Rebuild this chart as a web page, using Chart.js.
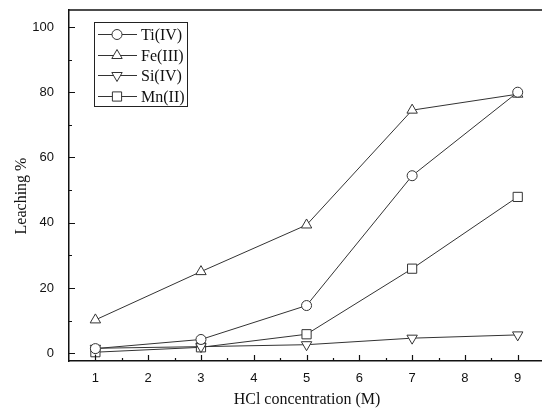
<!DOCTYPE html>
<html>
<head>
<meta charset="utf-8">
<script src="https://cdn.jsdelivr.net/npm/chart.js@4.4.1/dist/chart.umd.min.js"></script>
<style>
	body { margin: 0; background: #fff; }
	canvas { display: block; }
</style>
</head>
<body>
<canvas id="leachChart" width="542" height="410"></canvas>
<script>
let concentrations = [1, 3, 5, 7, 9];
let tiValues = [1.4, 4.2, 14.6, 54.4, 80.0];
let feValues = [10.2, 25.0, 39.3, 74.5, 79.4];
let siValues = [1.5, 2.0, 2.6, 4.6, 5.6];
let mnValues = [0.3, 1.8, 5.8, 25.9, 47.9];
let xTicks = [1, 2, 3, 4, 5, 6, 7, 8, 9];
let yTicks = [0, 20, 40, 60, 80, 100];

const lineColor = "#333";
const serif = "'Liberation Serif', 'Times New Roman', serif";
const sans = "'Liberation Sans', Arial, sans-serif";

const toPoints = (values) => values.map((v, i) => ({ x: concentrations[i], y: v }));

const makeSet = (label, values, style, radius, rotation) => ({
	label: label,
	data: toPoints(values),
	borderColor: lineColor,
	borderWidth: 1,
	pointStyle: style,
	pointRadius: radius,
	pointRotation: rotation || 0,
	pointBackgroundColor: "#fff",
	pointBorderColor: lineColor,
	pointBorderWidth: 1,
	tension: 0,
	fill: false,
});

let dataTi = makeSet("Ti(IV)", tiValues, "circle", 5);
let dataFe = makeSet("Fe(III)", feValues, "triangle", 6);
let dataSi = makeSet("Si(IV)", siValues, "triangle", 6, 180);
let dataMn = makeSet("Mn(II)", mnValues, "rect", 6.5);

// the plot runs off the right edge of the figure
const stretchPlugin = {
	id: "stretch",
	afterLayout(chart) {
		const xs = chart.scales.x;
		xs.right = chart.width;
		xs.width = xs.right - xs.left;
		chart.chartArea.right = chart.width;
		chart.chartArea.width = chart.chartArea.right - chart.chartArea.left;
		xs.configure();
		xs._labelItems = null;
	},
};

// inward ticks, top border, axis titles and the boxed legend
const framePlugin = {
	id: "frame",
	afterDraw(chart) {
		const c = chart.ctx;
		const area = chart.chartArea;
		const xs = chart.scales.x;
		const ys = chart.scales.y;
		c.save();
		c.strokeStyle = "#111";
		c.lineWidth = 1.5;
		c.beginPath();
		c.moveTo(area.left, area.top);
		c.lineTo(area.right, area.top);
		c.stroke();

		c.lineWidth = 1.2;
		c.beginPath();
		for (let v = 1; v <= 9.01; v += 0.5) {
			const px = Math.round(xs.getPixelForValue(v)) + 0.5;
			const len = Number.isInteger(v) ? 6 : 3;
			c.moveTo(px, area.bottom);
			c.lineTo(px, area.bottom - len);
		}
		for (let v = 0; v <= 100; v += 10) {
			const py = Math.round(ys.getPixelForValue(v)) + 0.5;
			const len = v % 20 === 0 ? 6 : 3;
			c.moveTo(area.left, py);
			c.lineTo(area.left + len, py);
		}
		c.stroke();

		c.fillStyle = "#111";
		c.font = "16px " + serif;
		c.textAlign = "center";
		c.textBaseline = "middle";
		c.fillText("HCl concentration (M)", 307, 400);
		c.save();
		c.translate(22, 196);
		c.rotate(-Math.PI / 2);
		c.fillText("Leaching %", 0, 0);
		c.restore();

		// legend box
		c.lineWidth = 1;
		c.strokeStyle = "#222";
		c.strokeRect(94.5, 22.5, 93, 84);
		const rows = [34, 55, 75, 96];
		chart.data.datasets.forEach((ds, i) => {
			const y = rows[i] + 0.5;
			c.strokeStyle = lineColor;
			c.beginPath();
			c.moveTo(98, y);
			c.lineTo(137, y);
			c.stroke();
			c.fillStyle = "#fff";
			Chart.helpers.drawPoint(c, {
				pointStyle: ds.pointStyle,
				radius: ds.pointRadius,
				rotation: ds.pointRotation,
				borderWidth: 1,
			}, 117, y);
			c.fillStyle = "#111";
			c.textAlign = "left";
			c.fillText(ds.label, 141, y + 1);
		});
		c.restore();
	},
};

let chartOptions = {
	responsive: false,
	animation: false,
	layout: { padding: { top: 10, right: 0, left: 0, bottom: 0 } },
	plugins: {
		legend: { display: false },
		tooltip: { enabled: false },
	},
	scales: {
		x: {
			type: "linear",
			min: 0.5,
			max: 9.46,
			grid: { display: false },
			border: { display: true, color: "#111", width: 1.5 },
			afterBuildTicks: (scale) => {
				scale.ticks = xTicks.map((v) => ({ value: v }));
			},
			afterFit: (scale) => {
				scale.height = 49;
				scale.paddingLeft = 0;
				scale.paddingRight = 0;
			},
			ticks: {
				color: "#111",
				padding: 2,
				maxRotation: 0,
				font: { family: sans, size: 13 },
			},
		},
		y: {
			min: -2.4,
			max: 105.2,
			grid: { display: false },
			border: { display: true, color: "#111", width: 1.5 },
			afterBuildTicks: (scale) => {
				scale.ticks = yTicks.map((v) => ({ value: v }));
			},
			afterFit: (scale) => {
				scale.width = 69;
				scale.paddingTop = 0;
				scale.paddingBottom = 0;
			},
			ticks: {
				color: "#111",
				padding: 7,
				font: { family: sans, size: 13 },
			},
		},
	},
};

let chart = new Chart(document.getElementById("leachChart"), {
	type: "line",
	data: { datasets: [dataTi, dataFe, dataSi, dataMn] },
	options: chartOptions,
	plugins: [stretchPlugin, framePlugin],
});
</script>
</body>
</html>
